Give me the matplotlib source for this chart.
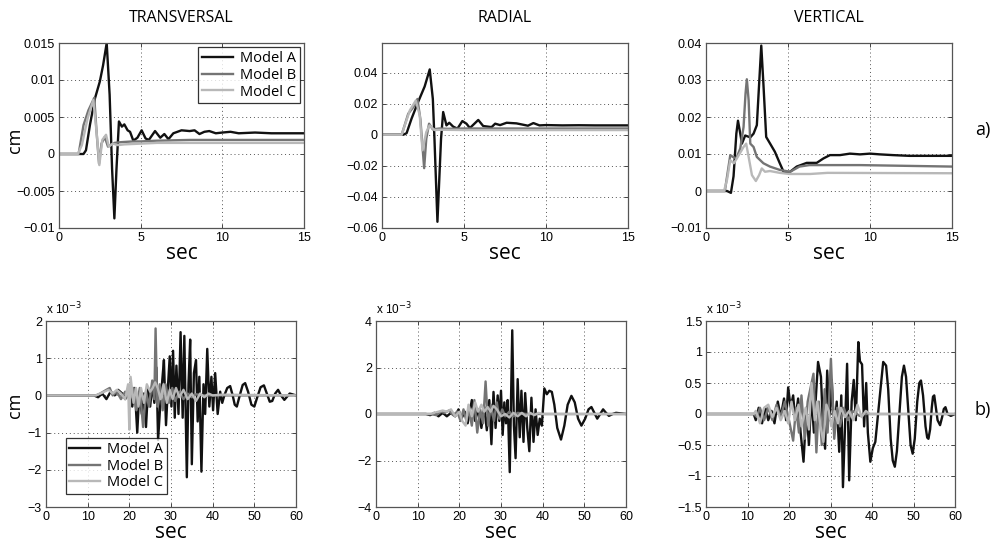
import matplotlib
matplotlib.use("Agg")
import matplotlib.pyplot as plt
from matplotlib.ticker import FuncFormatter, MultipleLocator

# ---------------- data ----------------
labels = ["Model A", "Model B", "Model C"]
titles = ["TRANSVERSAL", "RADIAL", "VERTICAL"]

# Row a): displacement in cm, 0-15 s, (time, value) pairs
tr_a = [(0, 0), (1.5, 0), (1.65, 0.0005), (1.9, 0.004), (2.2, 0.0075), (2.5, 0.0098), (2.7, 0.012),
        (2.92, 0.015), (3.1, 0.008), (3.25, -0.002), (3.39, -0.0087), (3.52, -0.002), (3.67, 0.0044),
        (3.85, 0.0037), (4.0, 0.004), (4.2, 0.0032), (4.35, 0.003), (4.55, 0.0018), (4.8, 0.0022),
        (5.06, 0.0032), (5.3, 0.0021), (5.5, 0.0019), (5.88, 0.0031), (6.2, 0.0022), (6.45, 0.0027),
        (6.7, 0.002), (7.0, 0.0028), (7.5, 0.0032), (8.0, 0.0031), (8.3, 0.0032), (8.6, 0.0027),
        (8.9, 0.003), (9.2, 0.0031), (9.6, 0.0028), (10, 0.0029), (10.5, 0.003), (11, 0.0028),
        (12, 0.0029), (13, 0.0028), (14, 0.0028), (15, 0.0028)]
tr_b = [(0, 0), (1.2, 0), (1.5, 0.0039), (1.8, 0.0059), (2.16, 0.0076), (2.3, 0.003), (2.45, -0.0013),
        (2.6, 0.0014), (2.8, 0.0023), (3.0, 0.0010), (3.2, 0.0013), (3.4, 0.0015), (3.8, 0.0016),
        (4.5, 0.0017), (5, 0.0017), (6, 0.0018), (8, 0.0019), (15, 0.0019)]
tr_c = [(0, 0), (1.15, 0), (1.4, 0.0012), (1.75, 0.0048), (2.1, 0.0073), (2.3, 0.003), (2.47, -0.0015),
        (2.65, 0.0019), (2.88, 0.0026), (3.05, 0.001), (3.3, 0.0014), (3.6, 0.0012), (4, 0.0013),
        (5, 0.0014), (6, 0.0015), (8, 0.0015), (15, 0.0015)]

ra_a = [(0, 0), (1.3, 0), (1.5, 0.001), (1.8, 0.0103), (2.2, 0.021), (2.6, 0.031), (2.91, 0.042),
        (3.1, 0.023), (3.2, -0.003), (3.38, -0.056), (3.6, -0.0026), (3.73, 0.0146), (3.93, 0.006),
        (4.1, 0.0077), (4.34, 0.0052), (4.6, 0.0039), (4.9, 0.0088), (5.15, 0.0071), (5.36, 0.0043),
        (5.87, 0.0095), (6.17, 0.0056), (6.68, 0.0049), (6.9, 0.0071), (7.2, 0.0062), (7.6, 0.0077),
        (8.2, 0.0073), (8.9, 0.0058), (9.23, 0.0075), (9.6, 0.006), (10, 0.0062), (11, 0.006),
        (12, 0.0061), (13, 0.006), (15, 0.006)]
ra_b = [(0, 0), (1.2, 0), (1.6, 0.0135), (2.0, 0.019), (2.16, 0.023), (2.34, 0.01), (2.57, -0.0215),
        (2.7, -0.0026), (2.87, 0.0071), (3.1, 0.0034), (3.5, 0.004), (4, 0.0038), (5, 0.004), (15, 0.004)]
ra_c = [(0, 0), (1.2, 0), (1.7, 0.0157), (2.06, 0.022), (2.3, 0.0125), (2.47, -0.01), (2.7, 0.0017),
        (2.9, 0.006), (3.2, 0.003), (3.6, 0.0032), (5, 0.003), (15, 0.003)]

ve_a = [(0, 0), (1.28, 0), (1.52, -0.0005), (1.68, 0.004), (1.85, 0.0155), (1.95, 0.019), (2.09, 0.0155),
        (2.19, 0.0128), (2.39, 0.015), (2.7, 0.0145), (2.9, 0.0155), (3.1, 0.0178), (3.24, 0.029),
        (3.37, 0.0393), (3.5, 0.029), (3.67, 0.0146), (3.91, 0.0128), (4.2, 0.0106), (4.5, 0.0075),
        (4.76, 0.0049), (5.13, 0.0052), (5.53, 0.0066), (6.14, 0.0076), (6.75, 0.0076), (7.16, 0.0088),
        (7.56, 0.0097), (8.17, 0.0097), (8.78, 0.0101), (9.39, 0.0099), (10, 0.0101), (10.6, 0.0099),
        (11.4, 0.0097), (12.4, 0.0095), (13.4, 0.0095), (15, 0.0095)]
ve_b = [(0, 0), (1.15, 0), (1.48, 0.0097), (1.64, 0.0092), (1.85, 0.0088), (2.09, 0.0115), (2.29, 0.0173),
        (2.41, 0.0263), (2.49, 0.0302), (2.6, 0.0245), (2.7, 0.0128), (2.9, 0.0119), (3.1, 0.0092),
        (3.5, 0.0075), (3.9, 0.0066), (4.5, 0.0057), (5.13, 0.0052), (5.7, 0.0066), (6.3, 0.007),
        (7.4, 0.007), (9.4, 0.007), (15, 0.0066)]
ve_c = [(0, 0), (1.1, 0), (1.28, 0.003), (1.48, 0.0083), (1.7, 0.0075), (2.0, 0.0097), (2.29, 0.0119),
        (2.45, 0.0128), (2.6, 0.0092), (2.8, 0.0043), (3.04, 0.0027), (3.24, 0.0043), (3.4, 0.0061),
        (3.6, 0.0052), (3.9, 0.0054), (4.5, 0.0049), (5.1, 0.0046), (6.35, 0.0046), (7.4, 0.0049),
        (15, 0.0048)]

# Row b): displacement in units of 1e-3 cm, 0-60 s, (time, value) pairs
btr_a = [(0, 0), (11.5, 0), (12.5, -0.05), (13.5, 0.05), (14.5, -0.1), (15.5, 0.1), (16.5, 0.0),
         (17.3, 0.15), (18.3, 0.05), (19, -0.1), (20, 0.1), (20.7, -0.3), (21.3, 0.2), (21.9, -1.0),
         (22.4, 0.1), (23, -0.5), (23.5, 0.05), (24, -0.85), (24.5, 0.2), (25, -0.3), (25.5, 0.3),
         (26, -0.2), (26.5, 0.75), (26.9, -1.2), (27.4, -0.3), (27.9, 0.4), (28.3, 0.95), (28.8, -0.8),
         (29.3, 0.3), (29.7, 1.05), (30.1, -0.3), (30.5, 1.2), (30.9, -0.6), (31.3, 0.8), (31.8, -0.5),
         (32.3, 1.7), (32.8, -0.6), (33.2, 1.6), (33.8, -2.2), (34.2, 0.3), (34.6, 1.5), (35.0, -1.85),
         (35.5, 0.6), (36.0, 0.95), (36.4, -0.7), (36.8, 0.5), (37.3, -2.05), (37.8, 0.3), (38.2, -0.5),
         (38.7, 1.25), (39.2, -0.3), (39.7, 0.5), (40.1, -0.4), (40.6, 0.6), (41.2, -0.5), (41.8, 0.1),
         (42.3, -0.2), (42.8, 0.0), (43.5, 0.2), (44.2, 0.25), (44.8, 0.0), (45.3, -0.25), (45.8, -0.3),
         (46.5, 0.0), (47.2, 0.28), (47.8, 0.33), (48.5, 0.1), (49.3, -0.25), (50, -0.3), (50.7, -0.05),
         (51.5, 0.22), (52.3, 0.27), (53, 0.05), (53.7, -0.17), (54.3, -0.15), (55, 0.05), (55.7, 0.15),
         (56.4, 0.0), (57.2, -0.12), (58.5, 0.05), (60, 0)]
btr_b = [(0, 0), (12, 0), (13, 0.05), (14.5, 0.15), (15.3, 0.2), (16, 0), (17, 0.1), (18, -0.1), (19, 0.1),
         (20, -0.1), (21, 0.2), (21.7, -0.4), (22.5, 0.2), (23.3, -0.85), (24, 0.1), (24.7, -0.3),
         (25.5, 0.4), (26, -0.1), (26.3, 1.8), (26.7, -0.3), (27.3, 0.3), (28, -0.4), (28.7, 0.3),
         (29.5, -0.2), (30.3, 0.2), (31, -0.15), (32, 0.1), (33, -0.1), (34, 0.05), (35, -0.05), (36, 0.03),
         (38, 0), (60, 0)]
btr_c = [(0, 0), (12, 0), (13, 0.05), (14, 0.1), (15, 0.15), (16, 0.05), (17, 0.15), (18, 0.05), (19, -0.1),
         (19.7, 0.3), (20.0, -0.92), (20.3, 0.5), (21, -0.2), (21.6, 0.2), (22.2, -0.3), (22.8, 0.2),
         (23.5, -0.2), (24.2, 0.3), (25, 0.1), (25.6, 0.2), (26.2, 0.35), (26.8, 0.2), (27.5, -0.1),
         (28.2, 0.3), (29, -0.2), (29.7, 0.15), (30.4, -0.1), (31.2, 0.2), (32, -0.05), (33, 0.15),
         (34, -0.1), (35, 0.05), (36, -0.15), (37, 0.05), (38, -0.05), (39, 0.05), (40, 0), (42, 0.02), (60, 0)]

bra_a = [(0, 0), (12, 0), (13, -0.05), (14, 0.05), (15, -0.1), (16, 0.05), (17, -0.1), (18, 0.05), (19, -0.1),
         (19.8, 0.2), (20.5, -0.2), (21.3, 0.1), (22, -0.4), (23, 0.6), (23.8, -0.3), (24.5, 0.2),
         (25.3, -0.6), (26, 0.3), (26.6, -0.7), (27.2, 0.6), (27.7, -1.3), (28.2, 0.95), (28.7, -0.6),
         (29.2, 0.8), (29.6, -0.3), (30.0, 1.0), (30.4, -0.9), (30.8, 0.5), (31.2, -0.4), (31.6, 0.6),
         (32.1, -2.5), (32.7, 3.6), (33.1, -0.5), (33.5, -1.9), (34.0, 1.5), (34.5, -1.0), (34.9, 1.0),
         (35.4, -1.2), (35.8, 0.9), (36.3, -0.6), (36.8, -1.6), (37.3, 0.7), (37.8, -1.2), (38.3, 0.2),
         (38.8, -0.9), (39.3, -0.2), (39.8, -0.5), (40.4, 1.1), (41.0, 0.85), (41.6, 1.0), (42.2, 0.95),
         (42.8, 0.4), (43.5, -0.6), (44.4, -1.1), (45.2, -0.5), (46.0, 0.4), (46.9, 0.78), (47.7, 0.5),
         (48.5, -0.2), (49.3, -0.5), (50.2, -0.2), (51.0, 0.2), (51.7, 0.3), (52.4, 0.05), (53.1, -0.2),
         (53.8, 0.0), (54.5, 0.2), (55.2, 0.05), (55.9, -0.08), (56.8, 0.0), (57.6, 0.05), (60, 0)]
bra_b = [(0, 0), (13, 0), (14.5, -0.05), (15.5, 0.1), (16.5, 0.05), (17.5, 0.15), (18.5, -0.05), (19.5, 0.1),
         (20.3, -0.3), (21, 0.2), (21.7, -0.3), (22.3, 0.2), (23, -0.5), (23.6, 0.6), (24.3, -0.8),
         (25, 0.2), (25.7, -0.4), (26.3, 1.4), (26.9, -0.5), (27.6, 0.4), (28.3, -0.3), (29, 0.5),
         (29.6, -0.2), (30.3, 0.2), (31, -0.1), (32, 0.1), (33, -0.1), (34, 0.05), (36, 0), (60, 0)]
bra_c = [(0, 0), (13, 0), (14, 0.05), (15, 0.1), (16, 0.15), (17, 0.1), (18, 0.2), (19, -0.1), (20, 0.1),
         (20.7, -0.3), (21.5, -0.5), (22.2, 0.4), (23, -0.1), (23.8, 0.5), (24.5, 0.1), (25.3, 0.4),
         (26, 0.1), (26.8, 0.3), (27.5, 0.1), (28.2, 0.35), (29, 0.2), (30, -0.1), (31, 0), (32, -0.15),
         (33, 0.05), (34, -0.1), (35, 0.05), (36, -0.1), (37, 0.05), (38, -0.05), (39, 0.05), (40, 0), (60, 0)]

bve_a = [(0, 0), (11.5, 0), (12, -0.1), (12.7, 0.1), (13.5, -0.15), (14.3, 0.1), (15, -0.1), (15.8, 0.05),
         (16.5, -0.15), (17.3, 0.2), (18, -0.05), (18.8, 0.25), (19.3, -0.1), (19.8, 0.43), (20.4, 0.1),
         (21, 0.3), (21.5, -0.1), (22.2, 0.25), (22.8, -0.3), (23.5, -0.77), (24.2, 0.1), (24.8, -0.5),
         (25.4, 0.3), (26, -0.3), (26.5, 0.3), (27.0, 0.84), (27.7, 0.6), (28.2, -0.2), (28.7, -0.56),
         (29.2, 0.7), (29.8, -0.1), (30.3, 0.55), (30.9, -0.3), (31.5, 0.2), (32.1, -0.61), (32.6, 0.3),
         (33.0, -1.18), (33.5, -0.2), (34.0, 0.81), (34.5, -1.07), (35.1, 0.2), (35.6, 0.55), (36.1, -0.1),
         (36.7, 1.16), (37.1, 0.85), (37.6, 0.8), (38.1, -0.2), (38.6, 0.5), (39.0, -0.3), (39.6, -0.77),
         (40.2, -0.55), (40.8, -0.45), (41.9, 0.3), (42.7, 0.84), (43.4, 0.78), (43.9, 0.4), (44.5, -0.4),
         (45.0, -0.75), (45.5, -0.85), (46.0, -0.6), (46.6, 0.0), (47.2, 0.6), (47.7, 0.78), (48.2, 0.6),
         (48.8, 0.0), (49.3, -0.5), (49.8, -0.64), (50.3, -0.4), (50.9, 0.2), (51.4, 0.5), (51.8, 0.54),
         (52.3, 0.3), (52.9, -0.2), (53.3, -0.38), (53.6, -0.40), (54.0, -0.25), (54.4, 0.1), (54.7, 0.28),
         (55.0, 0.3), (55.4, 0.1), (55.8, -0.1), (56.4, -0.18), (56.9, -0.05), (57.3, 0.08), (57.7, 0.11),
         (58.2, 0.0), (59, -0.03), (60, 0)]
bve_b = [(0, 0), (11.5, 0), (12.3, -0.05), (13, 0.1), (14, -0.1), (15, 0.1), (16, -0.1), (17, 0.15),
         (18, -0.05), (19, 0.2), (20, -0.1), (21.0, -0.43), (21.7, 0.1), (22.4, -0.3), (23, 0.3),
         (23.8, -0.4), (24.5, 0.2), (25.9, 0.65), (26.6, -0.62), (27.2, 0.2), (27.9, -0.5), (28.6, 0.4),
         (29.3, -0.3), (30.1, 0.89), (30.9, -0.4), (31.6, 0.1), (32.3, -0.2), (33.2, 0.1), (34.2, -0.1),
         (35.3, 0.05), (37, -0.03), (38, 0), (60, 0)]
bve_c = [(0, 0), (11.5, 0), (12, 0.05), (13, -0.15), (14, 0.1), (15, 0.15), (16, -0.05), (17, 0.1), (18, -0.1),
         (19, 0.05), (19.8, -0.15), (20.6, 0.2), (21.4, -0.1), (22.3, 0.15), (23, -0.2), (24, 0.1),
         (24.8, -0.25), (25.4, 0.5), (26.2, -0.1), (26.8, 0.2), (27.6, -0.2), (28.3, -0.45), (29, 0.15),
         (29.6, 0.05), (30.2, -0.2), (31, 0.05), (31.8, -0.15), (32.5, 0.1), (33.5, -0.05), (34.5, 0.05),
         (35.5, -0.1), (36.5, 0.15), (37.5, -0.05), (38.5, 0.05), (39.5, 0), (60, 0)]

top_series = [[tr_a, tr_b, tr_c], [ra_a, ra_b, ra_c], [ve_a, ve_b, ve_c]]
bot_series = [[btr_a, btr_b, btr_c], [bra_a, bra_b, bra_c], [bve_a, bve_b, bve_c]]
top_ylim = [(-0.01, 0.015), (-0.06, 0.059), (-0.01, 0.04)]
top_ystep = [0.005, 0.02, 0.01]
bot_ylim = [(-3, 2), (-4, 4), (-1.5, 1.5)]
bot_ystep = [1, 2, 0.5]

# ---------------- style ----------------
colors = ["#111111", "#747474", "#b8b8b8"]
LW = 1.7
W, H = 993, 550
tick_font = ["Liberation Sans Narrow", "Liberation Sans", "DejaVu Sans"]
text_font = ["Open Sans", "DejaVu Sans"]

fig = plt.figure(figsize=(W / 100, H / 100), dpi=100)


def px_axes(l, t, r, b):
    return fig.add_axes([l / W, 1 - b / H, (r - l) / W, (b - t) / H])


def fmt(v, p):
    s = f"{v:g}"
    if abs(v) < 1e-12:
        s = "0"
    return s.replace("-", "\u2212")


def style(ax, xlim, xstep, ylim, ystep):
    ax.set_xlim(*xlim)
    ax.set_ylim(*ylim)
    ax.xaxis.set_major_locator(MultipleLocator(xstep))
    ax.yaxis.set_major_locator(MultipleLocator(ystep))
    ax.xaxis.set_major_formatter(FuncFormatter(fmt))
    ax.yaxis.set_major_formatter(FuncFormatter(fmt))
    ax.grid(True, linestyle=(0, (1, 3)), color="#555555", linewidth=0.7)
    ax.tick_params(direction="in", top=True, right=True, length=3, width=0.7,
                   color="#444444", labelsize=9, pad=3)
    for s in ax.spines.values():
        s.set_color("#555555")
        s.set_linewidth(0.9)


def draw(ax, series):
    for pts, c, lab in zip(series, colors, labels):
        t = [p[0] for p in pts]
        y = [p[1] for p in pts]
        ax.plot(t, y, color=c, lw=LW, label=lab, solid_joinstyle="round")


def set_tick_font(ax):
    for lab in ax.get_xticklabels() + ax.get_yticklabels():
        lab.set_family(tick_font)


def legend(ax, **kw):
    leg = ax.legend(prop={"family": text_font, "size": 10.5}, frameon=True, fancybox=False,
                    borderpad=0.25, labelspacing=0.12, handlelength=2.1, handletextpad=0.5, **kw)
    leg.get_frame().set_edgecolor("black")
    leg.get_frame().set_linewidth(0.9)


top_boxes = [(59, 43, 304, 228), (382, 43, 628, 228), (706, 43, 952, 228)]
bot_boxes = [(46, 321, 296, 507), (376, 321, 626, 507), (706, 321, 955, 507)]

for i in range(3):
    ax = px_axes(*top_boxes[i])
    draw(ax, top_series[i])
    style(ax, (0, 15), 5, top_ylim[i], top_ystep[i])
    lo, hi = top_ylim[i]
    ax.set_yticks([v for v in ax.get_yticks() if lo - 1e-9 <= v <= hi + 1e-9])
    set_tick_font(ax)
    ax.set_title(titles[i], family=text_font, fontsize=11.5, pad=15)
    ax.set_xlabel("sec", family=text_font, fontsize=15, labelpad=-1)
    if i == 0:
        legend(ax, loc="upper right", borderaxespad=0.3)

for i in range(3):
    ax = px_axes(*bot_boxes[i])
    draw(ax, bot_series[i])
    style(ax, (0, 60), 10, bot_ylim[i], bot_ystep[i])
    set_tick_font(ax)
    ax.set_xlabel("sec", family=text_font, fontsize=15, labelpad=-1)
    ax.text(0.0, 1.02, r"x 10$^{-3}$", transform=ax.transAxes, ha="left", va="bottom",
            family=tick_font, fontsize=8.5)
    if i == 0:
        legend(ax, loc="lower left", bbox_to_anchor=(0.05, 0.03))

fig.text(15 / W, 1 - 140 / H, "cm", rotation=90, ha="center", va="center", family=text_font, fontsize=13)
fig.text(15 / W, 1 - 405 / H, "cm", rotation=90, ha="center", va="center", family=text_font, fontsize=13)
fig.text(983 / W, 1 - 130 / H, "a)", ha="center", va="center", family=text_font, fontsize=13)
fig.text(983 / W, 1 - 410 / H, "b)", ha="center", va="center", family=text_font, fontsize=13)

fig.savefig("out.png", dpi=100)
